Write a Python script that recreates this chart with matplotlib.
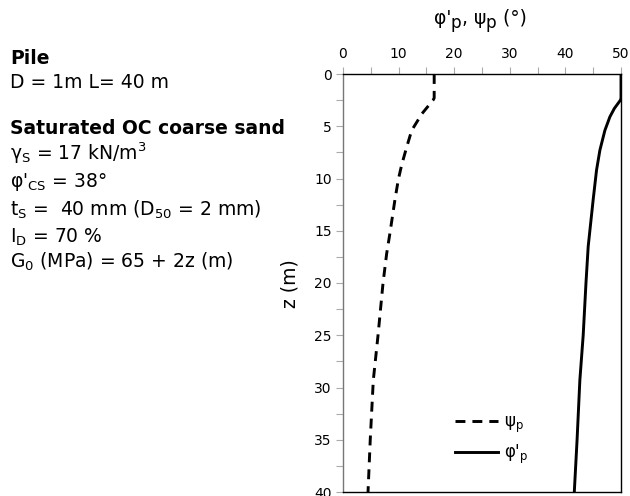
import matplotlib
matplotlib.use("Agg")
import matplotlib.pyplot as plt
from matplotlib.transforms import IdentityTransform

# Data
z_psi = [0, 2.3, 2.5, 3.8, 5.4, 7.0, 8.7, 10.1, 12.0, 15.2, 17.2, 20, 25, 29.3, 35, 40]
psi_p = [16.4, 16.4, 16.2, 14.2, 12.35, 11.45, 10.55, 9.95, 9.35, 8.45, 7.85, 7.2, 6.3, 5.45, 4.9, 4.5]

z_phi = [0, 2.3, 2.5, 3.3, 4.1, 5.4, 7.3, 9.2, 12.0, 16.5, 20, 25, 29.3, 35, 40]
phi_p = [50, 50, 49.9, 48.8, 48.0, 47.1, 46.2, 45.6, 45.0, 44.1, 43.7, 43.2, 42.6, 42.1, 41.6]

x_ticks = [0, 10, 20, 30, 40, 50]
y_ticks = [0, 5, 10, 15, 20, 25, 30, 35, 40]

plt.rcParams['font.family'] = ['DejaVu Sans']

W, H = 630, 496
fig = plt.figure(figsize=(6.3, 4.96), dpi=100)
ax = fig.add_axes([343/W, 1 - 492/H, (621-343)/W, (492-74)/H])

ax.plot(psi_p, z_psi, color='black', lw=2.1, ls=(0, (3.4, 2.4)), label=r'ψ$_\mathregular{p}$')
ax.plot(phi_p, z_phi, color='black', lw=2.1, ls='-', label=r"φ'$_\mathregular{p}$")

ax.set_xlim(0, 50)
ax.set_ylim(40, 0)
ax.xaxis.tick_top()
ax.set_xticks(x_ticks)
ax.set_yticks(y_ticks)
ax.set_xticks(range(5, 50, 10), minor=True)
ax.set_yticks([2.5 + 5*i for i in range(8)], minor=True)
ax.tick_params(which='both', direction='out', color='#aaaaaa', labelsize=10, width=0.8, length=5)
ax.tick_params(axis='x', pad=4)
ax.tick_params(axis='y', pad=3)
for s in ['top', 'right', 'bottom']:
    ax.spines[s].set_color('black')
    ax.spines[s].set_linewidth(1.0)
ax.spines['left'].set_color('#777777')
ax.spines['left'].set_linewidth(1.0)

# y label
fig.text(290/W, 1 - 284/H, 'z (m)', fontsize=13.5, rotation=90, ha='center', va='center')

ax.legend(loc='lower right', bbox_to_anchor=(0.72, 0.027), frameon=False, fontsize=12,
          handlelength=2.6, handletextpad=0.35, labelspacing=0.45)

# x label on top, with near-full-size lowered subscripts
renderer = fig.canvas.get_renderer()
segments = [("φ'", 1.0, 0), ("p", 0.9, -4), (", ψ", 1.0, 0), ("p", 0.9, -4), (" (°)", 1.0, 0)]
fs_lab = 13.5
objs = []
for s, sc, dy in segments:
    t = fig.text(0, 0, s, fontsize=fs_lab*sc, transform=IdentityTransform(), va='baseline', ha='left')
    objs.append((t, dy))
widths = [t.get_window_extent(renderer).width for t, _ in objs]
total = sum(widths)
x0 = 480 - total/2
base_y = H - 24
for (t, dy), w in zip(objs, widths):
    t.set_position((x0, base_y + dy))
    x0 += w

# Left description text
fs = 13.5
lx = 10/W
fig.text(lx, 1 - 58/H, 'Pile', fontsize=fs, fontweight='bold', va='center')
fig.text(lx, 1 - 82/H, 'D = 1m L= 40 m', fontsize=fs, va='center')
fig.text(lx, 1 - 128/H, 'Saturated OC coarse sand', fontsize=fs, fontweight='bold', va='center')
fig.text(lx, 1 - 153/H, r'γ$_\mathregular{S}$ = 17 kN/m$^\mathregular{3}$', fontsize=fs, va='center')
fig.text(lx, 1 - 182/H, r"φ'$_\mathregular{CS}$ = 38°", fontsize=fs, va='center')
fig.text(lx, 1 - 210/H, r't$_\mathregular{S}$ =  40 mm (D$_\mathregular{50}$ = 2 mm)', fontsize=fs, va='center')
fig.text(lx, 1 - 237/H, r'I$_\mathregular{D}$ = 70 %', fontsize=fs, va='center')
fig.text(lx, 1 - 262/H, r'G$_\mathregular{0}$ (MPa) = 65 + 2z (m)', fontsize=fs, va='center')

fig.savefig('out.png', dpi=100)
